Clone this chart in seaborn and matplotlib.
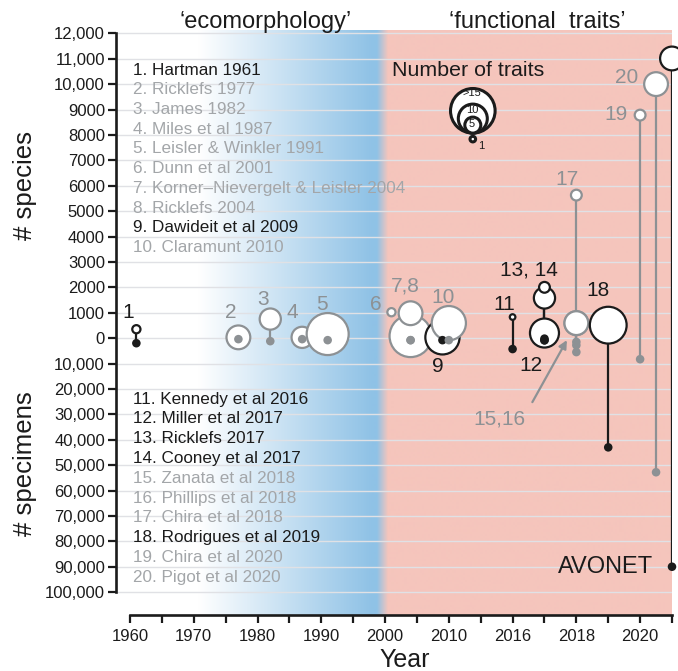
"""
Bird morphology datasets through time: # species (up) and # specimens (down)
per study, circle size = number of traits.
"""
import numpy as np
import pandas as pd
import seaborn as sns
import matplotlib.pyplot as plt
from matplotlib.colors import to_rgb

sns.set_style('white')
plt.rcParams['font.family'] = ['Liberation Sans', 'DejaVu Sans']

BLACK = '#1b1b1b'
GREY = '#8d9194'
TEXT_GREY = '#a3a6a9'

###############################################################################
# data
###############################################################################
tags = ['1', '2', '3', '4', '5', '6', '7', '8', '9', '10', '11', '12', '13',
        '14', '15', '16', '17', '18', '19', '20', 'AVONET']
refs = ['Hartman 1961', 'Ricklefs 1977', 'James 1982', 'Miles et al 1987',
        'Leisler & Winkler 1991', 'Dunn et al 2001',
        'Korner\u2013Nievergelt & Leisler 2004', 'Ricklefs 2004',
        'Dawideit et al 2009', 'Claramunt 2010', 'Kennedy et al 2016',
        'Miller et al 2017', 'Ricklefs 2017', 'Cooney et al 2017',
        'Zanata et al 2018', 'Phillips et al 2018', 'Chira et al 2018',
        'Rodrigues et al 2019', 'Chira et al 2020', 'Pigot et al 2020']
years = [1961, 1977, 1982, 1987, 1991, 2001, 2004, 2004, 2009, 2010,
         2016, 2017, 2017, 2017, 2018, 2018, 2018, 2019, 2020, 2020.5, 2021]
species = [350, 30, 750, 30, 160, 1020, 80, 980, 30, 590,
           830, 200, 1580, 2000, 590, 590, 5630, 510, 8780, 10000, 11009]
specimens = [2000, 400, 1200, 400, 800, np.nan, 800, 800, 800, 800,
             4300, 200, 900, 800, 1500, 5500, 2800, 43000, 8300, 52800, 90000]
traits = [2, 8, 7, 7, 15, 2, 15, 8, 12, 12, 1, 10, 7, 3, 8, 8, 3, 13, 3, 8, 8]
is_black = [1, 0, 0, 0, 0, 0, 0, 0, 1, 0, 1, 1, 1, 1, 0, 0, 0, 1, 0, 0, 1]

species_ticks = [0, 1000, 2000, 3000, 4000, 5000, 6000, 7000, 8000, 9000,
                 10000, 11000, 12000]
specimen_ticks = [10000, 20000, 30000, 40000, 50000, 60000, 70000, 80000,
                  90000, 100000]
year_ticks = [1960, 1970, 1980, 1990, 2000, 2010, 2016, 2018, 2020]
legend_traits = [16, 10, 5, 1]
legend_trait_labels = ['>15', '10', '5', '1']


# broken year axis: decades up to 2010, then 2010-16, then every 2 years
def year_pos(y):
    if y <= 2010:
        return (y - 1960) / 10
    if y <= 2016:
        return 5 + (y - 2010) / 6
    return 6 + (y - 2016) / 2


# reference picture pixels -> data units (for annotation layout only)
PX_X0, PX_PER_X = 130, 63.8
PX_Y0, PX_PER_Y = 338, 25.4


def px2x(px):
    return (px - PX_X0) / PX_PER_X


def px2y(py):
    return (PX_Y0 - py) / PX_PER_Y


def trait_area(t):
    r = 2.5 + 1.3 * t - 1.0          # radius in px (inside the stroke)
    return (2 * r * 0.72) ** 2        # marker area in pt^2 at dpi 100


df = pd.DataFrame({'tag': tags, 'year': years, 'species': species,
                   'specimens': specimens, 'traits': traits,
                   'black': is_black})
df['pos'] = df['year'].map(year_pos)
df['y_top'] = df['species'] / 1000
df['y_bot'] = -df['specimens'] / 10000
df['colour'] = np.where(df['black'] == 1, BLACK, GREY)

###############################################################################
# figure
###############################################################################
fig = plt.figure(figsize=(6.78, 6.71), dpi=100)
ax = fig.add_axes([116 / 678, 56 / 671, 556 / 678, 585 / 671])
XMIN, XMAX = px2x(116), year_pos(2021)
YMIN, YMAX = -10.9, 12.13
ax.set_xlim(XMIN, XMAX)
ax.set_ylim(YMIN, YMAX)

# background: white -> blue 'ecomorphology' -> pink 'functional traits'
cols = np.arange(116, 673)
stops_px = [116, 198, 372, 377, 388, 672]
stops_c = [to_rgb(c) for c in ['#ffffff', '#ffffff', '#8fc2e6', '#8fc2e6',
                               '#f5c5bc', '#f5c5bc']]
img = np.stack([np.interp(cols, stops_px, [c[i] for c in stops_c])
                for i in range(3)], axis=-1)[None, :, :]
ax.imshow(img, extent=[XMIN, XMAX, YMIN, YMAX], aspect='auto', zorder=0)

# grid + axes
yt = [-s / 10000 for s in specimen_ticks[::-1]] + [s / 1000 for s in species_ticks]
ylabs = [f'{v:,}' if v >= 10000 else str(v)
         for v in specimen_ticks[::-1] + species_ticks]
ax.set_yticks(yt)
ax.set_yticklabels(ylabs)
ax.set_xticks([year_pos(y) for y in year_ticks])
ax.set_xticklabels([str(y) for y in year_ticks])
ax.set_xticks(np.arange(0.5, 9, 1.0), minor=True)
ax.yaxis.grid(True, color='#e0e1e5', lw=1.0)
ax.set_axisbelow(True)
for side in ['top', 'right']:
    ax.spines[side].set_visible(False)
for side in ['left', 'bottom']:
    ax.spines[side].set_linewidth(1.9)
    ax.spines[side].set_color(BLACK)
ax.spines['left'].set_bounds(-10, 12)
ax.spines['bottom'].set_bounds(0, XMAX)
ax.tick_params(axis='both', which='both', length=6, width=1.6, color=BLACK,
               labelsize=12, labelcolor=BLACK, left=True, bottom=True)
ax.tick_params(axis='y', pad=2)
ax.tick_params(axis='x', pad=4)

# stems
st = df[df['specimens'].notna()]
ax.vlines(st['pos'], st['y_bot'], st['y_top'], colors=st['colour'], lw=1.6,
          zorder=2)

# circles (size = number of traits)
size_map = {t: trait_area(t) for t in sorted(set(traits))}
sns.scatterplot(data=df, x='pos', y='y_top', size='traits', sizes=size_map,
                color='white', edgecolor=df['colour'].tolist(), linewidth=1.6,
                legend=False, zorder=3, clip_on=False, ax=ax)

# specimen dots
sns.scatterplot(data=st, x='pos', y='y_bot', hue='colour',
                palette={BLACK: BLACK, GREY: GREY}, s=38, edgecolor='none',
                linewidth=0, legend=False, zorder=4, clip_on=False, ax=ax)

# study number labels, offsets in px from circle centre
label_offsets = {'1': ('1', -8, 19), '2': ('2', -8, 27), '3': ('3', -7, 22),
                 '4': ('4', -10, 27), '5': ('5', -6, 32), '6': ('6', -16, 10),
                 '8': ('7,8', -5, 29), '9': ('9', -5, -27),
                 '10': ('10', -6, 28), '11': ('11', -8, 15),
                 '12': ('12', -14, -30), '14': ('13, 14', -16, 19),
                 '17': ('17', -9, 18), '18': ('18', -10, 37),
                 '19': ('19', -24, 3), '20': ('20', -29, 9)}
for _, row in df.iterrows():
    if row['tag'] not in label_offsets:
        continue
    text, dx, dy = label_offsets[row['tag']]
    ax.annotate(text, xy=(row['pos'], row['y_top']), xytext=(dx, dy - 7.5),
                textcoords='offset pixels', ha='center', va='baseline',
                fontsize=15, color=BLACK if row['black'] else GREY, zorder=6)

# 15,16 arrow label
r15 = df[df['tag'] == '15'].iloc[0]
ax.annotate('', xy=(r15['pos'], r15['y_top']), xytext=(-44, -79),
            textcoords='offset pixels',
            arrowprops=dict(arrowstyle='-|>', color=GREY, lw=1.6,
                            mutation_scale=12, shrinkA=0, shrinkB=14),
            zorder=6)
ax.annotate('15,16', xy=(r15['pos'], r15['y_top']), xytext=(-77, -94 - 7.5),
            textcoords='offset pixels', ha='center', va='baseline',
            fontsize=15, color=GREY, zorder=6)

# AVONET label at its specimen dot
ra = df[df['tag'] == 'AVONET'].iloc[0]
ax.annotate('AVONET', xy=(ra['pos'], ra['y_bot']), xytext=(-19, 0),
            textcoords='offset pixels', ha='right', va='center',
            fontsize=17, color=BLACK, zorder=6)

# number of traits key
ax.text(px2x(468), px2y(70), 'Number of traits', ha='center', va='center',
        fontsize=15.4, color=BLACK, zorder=6)
key_x = px2x(473)
key_cy = [px2y(134 - (2.5 + 1.3 * t)) for t in legend_traits[:3]] + [px2y(139)]
ax.scatter([key_x] * 4, key_cy, s=[trait_area(t) for t in legend_traits],
           facecolor='white', edgecolor=BLACK, linewidth=2.2, zorder=5)
for lab, (lx, ly) in zip(legend_trait_labels,
                         [(472, 93), (472, 110), (472, 124), (481, 146)]):
    ax.text(px2x(lx), px2y(ly), lab, ha='center', va='center', fontsize=8,
            color=BLACK, zorder=6)

# reference lists
for i, ref in enumerate(refs):
    col = BLACK if is_black[i] else TEXT_GREY
    py = 70 + 19.7 * i if i < 10 else 399 + 19.8 * (i - 10)
    ax.text(px2x(133), px2y(py), f'{i + 1}. {ref}', ha='left', va='center',
            fontsize=12.3, color=col, zorder=6)

# axis labels and headings
ax.set_xlabel('')
ax.set_ylabel('')
fig.text(405 / 678, 1 - 667 / 671, 'Year', ha='center', va='baseline',
         fontsize=18, color=BLACK)
fig.text(25 / 678, 1 - 186 / 671, '# species', rotation=90, ha='center',
         va='center', fontsize=18.5, color=BLACK)
fig.text(25 / 678, 1 - 464 / 671, '# specimens', rotation=90, ha='center',
         va='center', fontsize=18.5, color=BLACK)
fig.text(266 / 678, 1 - 28 / 671, '\u2018ecomorphology\u2019', ha='center',
         va='baseline', fontsize=17, color=BLACK)
fig.text(537 / 678, 1 - 28 / 671, '\u2018functional  traits\u2019',
         ha='center', va='baseline', fontsize=17, color=BLACK)

fig.savefig('out.png', dpi=100)
